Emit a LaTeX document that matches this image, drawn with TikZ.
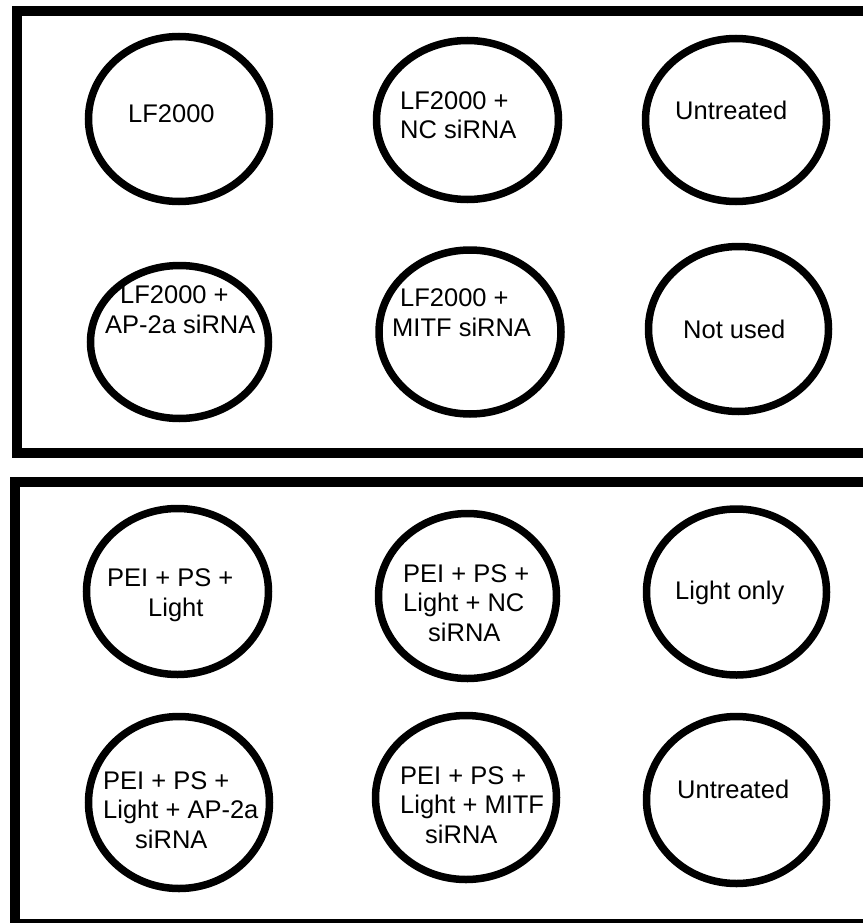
\documentclass[tikz,border=0pt]{standalone}
\usepackage{fontspec}
\setmainfont{Liberation Sans}
\usetikzlibrary{shapes.geometric}
\begin{document}
\begin{tikzpicture}[x=1pt,y=-1pt,
  well/.style={ellipse, draw=black, line width=7.5pt, inner sep=0pt},
  lbl/.style={anchor=base west, inner sep=0pt, align=left, text=black,
    font=\fontsize{25.5}{29.5}\selectfont},
  plate/.style={draw=black, line width=10pt}]
\useasboundingbox (0,0) rectangle (862,923);
% plates
\draw[plate] (17,11) rectangle (880,453);
\draw[plate] (15,482) rectangle (880,924);
% wells, top plate
\node[well, minimum width=181pt, minimum height=165pt] (w1) at (179,119) {};
\node[well, minimum width=182pt, minimum height=159pt] (w2) at (467.5,120) {};
\node[well, minimum width=181pt, minimum height=163pt] (w3) at (736,120) {};
\node[well, minimum width=178pt, minimum height=153pt] (w4) at (179.5,342) {};
\node[well, minimum width=182pt, minimum height=164pt] (w5) at (470,332) {};
\node[well, minimum width=180pt, minimum height=165pt] (w6) at (738.5,329) {};
% wells, bottom plate
\node[well, minimum width=182pt, minimum height=166pt] (w7) at (177.5,591.5) {};
\node[well, minimum width=178pt, minimum height=165pt] (w8) at (467.5,596) {};
\node[well, minimum width=180pt, minimum height=166pt] (w9) at (736.5,592) {};
\node[well, minimum width=181pt, minimum height=172pt] (w10) at (179,802.5) {};
\node[well, minimum width=181pt, minimum height=164pt] (w11) at (466,797.5) {};
\node[well, minimum width=180pt, minimum height=167pt] (w12) at (736.5,800) {};
% labels (anchor = baseline of last line)
\node[lbl] (t1) at (128,122) {LF2000};
\node[lbl] (t2) at (400,139) {LF2000 +\\NC siRNA};
\node[lbl] (t3) at (675,120) {Untreated};
\node[lbl] (t4) at (105,333) {\hspace{15pt}LF2000 +\\AP-2a siRNA};
\node[lbl] (t5) at (392,336) {\hspace{8pt}LF2000 +\\MITF siRNA};
\node[lbl] (t6) at (683,338) {Not used};
\node[lbl] (t7) at (107,616) {PEI + PS +\\\hspace{41pt}Light};
\node[lbl] (t8) at (403,641) {PEI + PS +\\Light + NC\\\hspace{25pt}siRNA};
\node[lbl] (t9) at (675,599) {Light only};
\node[lbl] (t10) at (103,848) {PEI + PS +\\Light + AP-2a\\\hspace{32pt}siRNA};
\node[lbl] (t11) at (400,843) {PEI + PS +\\Light + MITF\\\hspace{25pt}siRNA};
\node[lbl] (t12) at (677,798) {Untreated};
\end{tikzpicture}
\end{document}
